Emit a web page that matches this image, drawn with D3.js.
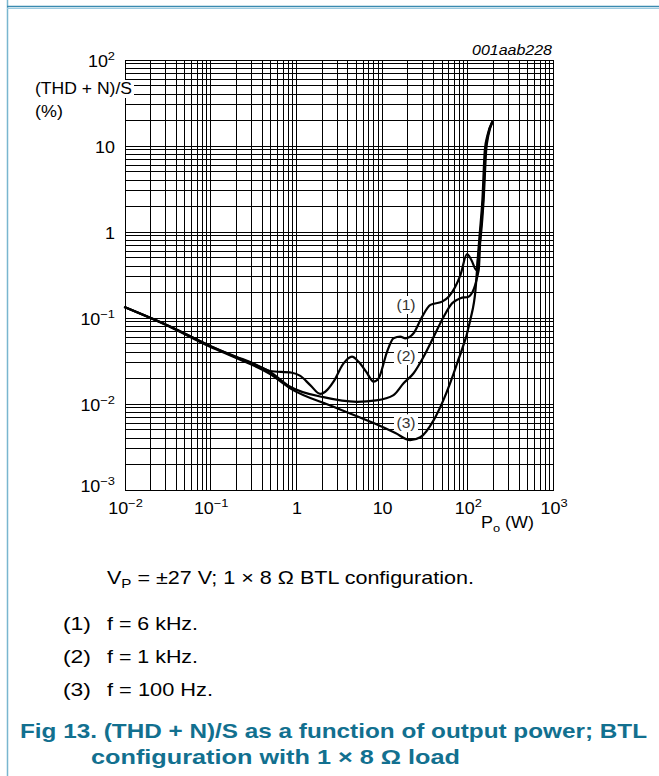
<!DOCTYPE html>
<html><head><meta charset="utf-8">
<script src="https://cdn.jsdelivr.net/npm/d3@7"></script>
<style>
body{margin:0;background:#fff}
svg{display:block}
text{font-family:"Liberation Sans",Arial,Helvetica,sans-serif}
</style>
</head><body>
<svg id="c" width="659" height="776"></svg>
<script>
// ---- data ----
const xTickValues = [0.01, 0.1, 1, 10, 100, 1000];
const xTickLabels = [["10","\u22122"],["10","\u22121"],["1",""],["10",""],["10","2"],["10","3"]];
const yTickValues = [100, 10, 1, 0.1, 0.01, 0.001];
const yTickLabels = [["10","2"],["10",""],["1",""],["10","\u22121"],["10","\u22122"],["10","\u22123"]];

// (1) f = 6 kHz
const curve1Power = [0.01,0.0336,0.0984,0.202,0.289,0.494,0.886,1.11,1.45,1.90,2.29,2.71,3.55,4.45,5.32,6.54,7.96,9.10,11.4,13.6,16.3,18.7,23.3,29.3,36.6,50.1,59.8,82.0,98.1,110,126,135,143,153,164,174,194];
const curve1Thd   = [0.133,0.0796,0.0473,0.0352,0.0308,0.0242,0.0231,0.0212,0.0166,0.0131,0.0146,0.0182,0.0297,0.0355,0.031,0.0236,0.0182,0.0199,0.0402,0.0581,0.0606,0.058,0.0664,0.1035,0.142,0.155,0.177,0.316,0.555,0.473,0.361,0.617,0.974,2.36,8.98,13.4,19.0];
// (2) f = 1 kHz
const curve2Power = [0.01,0.0336,0.0984,0.202,0.494,0.846,2.07,5.09,8.55,13.6,17.8,23.3,30.5,40.0,52.3,65.6,82.0,102,134,141,151,161,172,193];
const curve2Thd   = [0.133,0.0796,0.0473,0.0347,0.0236,0.0159,0.0120,0.0106,0.0110,0.0127,0.0174,0.0228,0.0355,0.0606,0.1035,0.148,0.170,0.177,0.361,0.974,2.36,8.98,13.4,19.0];
// (3) f = 100 Hz
const curve3Power = [0.01,0.0336,0.0984,0.202,0.494,0.846,2.71,7.96,14.3,21.3,27.9,40.0,51.9,75.0,107,123,133,138,148,158,170,192];
const curve3Thd   = [0.133,0.0786,0.0464,0.034,0.0223,0.0152,0.0093,0.0060,0.0046,0.0038,0.0041,0.0065,0.0111,0.0297,0.0948,0.212,0.617,0.974,2.36,8.98,13.4,19.0];

const curveNames = ["(1)","(2)","(3)"];
const curveLabelPower = [19.0, 19.0, 19.0];
const curveLabelThd = [0.1416, 0.0361, 0.00597];

// ---- drawing ----
const svg = d3.select("#c");
const x = d3.scaleLog().domain([0.01, 1000]).range([125, 553.5]);
const y = d3.scaleLog().domain([0.001, 100]).range([490, 60]);
const SX = 1.12; // horizontal stretch of the reference lettering

// page frame
svg.append("line").attr("x1",7.5).attr("x2",7.5).attr("y1",0).attr("y2",776).attr("stroke","#79b6cf").attr("stroke-width",1.5);
svg.append("line").attr("x1",7).attr("x2",659).attr("y1",6.5).attr("y2",6.5).attr("stroke","#3a8ab0").attr("stroke-width",1.6);
svg.append("line").attr("x1",7).attr("x2",659).attr("y1",8.5).attr("y2",8.5).attr("stroke","#9ccbe0").attr("stroke-width",1);

// grid
const grid = svg.append("g").attr("stroke","#000").attr("stroke-width",1).attr("shape-rendering","crispEdges");
grid.selectAll("line.v").data(x.ticks()).join("line").attr("class","v")
  .attr("x1",d=>x(d)).attr("x2",d=>x(d)).attr("y1",y.range()[1]).attr("y2",y.range()[0]);
grid.selectAll("line.h").data(y.ticks()).join("line").attr("class","h")
  .attr("y1",d=>y(d)).attr("y2",d=>y(d)).attr("x1",x.range()[0]).attr("x2",x.range()[1]);

// axes (labels only)
const gx = svg.append("g").attr("transform",`translate(0,${y.range()[0]})`)
  .call(d3.axisBottom(x).tickValues(xTickValues).tickSize(0).tickPadding(0).tickFormat(()=>""));
gx.select(".domain").remove();
gx.selectAll(".tick text").each(function(d,i){
  const t = d3.select(this);
  t.text(null).attr("x",0).attr("y",0).attr("dy",null).attr("font-size",16).attr("fill","#000")
   .attr("transform",`translate(0,24) scale(${SX},1)`)
   .attr("font-family",'"Liberation Sans",Arial,sans-serif').attr("text-anchor","middle");
  t.append("tspan").text(xTickLabels[i][0]);
  if (xTickLabels[i][1]) t.append("tspan").attr("font-size",11.5).attr("dy",-7).text(xTickLabels[i][1]);
});

const gy = svg.append("g").attr("transform",`translate(${x.range()[0]},0)`)
  .call(d3.axisLeft(y).tickValues(yTickValues).tickSize(0).tickPadding(0).tickFormat(()=>""));
gy.select(".domain").remove();
gy.selectAll(".tick text").each(function(d,i){
  const t = d3.select(this);
  t.text(null).attr("x",0).attr("y",0).attr("dy",null).attr("font-size",16).attr("fill","#000")
   .attr("transform",`translate(-10,${i===5 ? 1 : 6}) scale(${SX},1)`)
   .attr("font-family",'"Liberation Sans",Arial,sans-serif').attr("text-anchor","end");
  t.append("tspan").text(yTickLabels[i][0]);
  if (yTickLabels[i][1]) t.append("tspan").attr("font-size",11.5).attr("dy",-7).text(yTickLabels[i][1]);
});

// y title with white background
svg.append("rect").attr("x",30).attr("y",80).attr("width",104).attr("height",18).attr("fill","#fff");
svg.append("text").attr("x",35).attr("y",94).attr("font-size",16)
  .attr("textLength",97).attr("lengthAdjust","spacingAndGlyphs").text("(THD + N)/S");
svg.append("text").attr("transform",`translate(49,117) scale(${SX},1)`).attr("text-anchor","middle").attr("font-size",16).text("(%)");

// x title
const xt = svg.append("text").attr("transform",`translate(481,528) scale(${SX},1)`).attr("font-size",16);
xt.append("tspan").text("P");
xt.append("tspan").attr("font-size",11.5).attr("dy",4).text("o");
xt.append("tspan").attr("dy",-4).text(" (W)");

// code
svg.append("text").attr("x",472).attr("y",55).attr("font-size",14.5).attr("font-style","italic")
  .attr("textLength",80).attr("lengthAdjust","spacingAndGlyphs").text("001aab228");

// curves
const line = d3.line().x(d=>x(d[0])).y(d=>y(d[1])).curve(d3.curveMonotoneX);
const series = [
  d3.zip(curve1Power, curve1Thd),
  d3.zip(curve2Power, curve2Thd),
  d3.zip(curve3Power, curve3Thd)
];

// curve labels (white boxes break the grid)
const lab = svg.append("g").selectAll("g").data(curveNames).join("g")
  .attr("transform",(d,i)=>`translate(${x(curveLabelPower[i])},${y(curveLabelThd[i])})`);
lab.append("rect").attr("x",-12).attr("y",-9).attr("width",24).attr("height",18).attr("fill","#fff");
lab.append("text").attr("text-anchor","middle").attr("y",5).attr("font-size",14).attr("fill","#333")
  .attr("transform",`scale(${SX},1)`).text(d=>d);

svg.append("g").selectAll("path").data(series).join("path")
  .attr("d", line).attr("fill","none").attr("stroke","#000").attr("stroke-width",2.2)
  .attr("stroke-linejoin","round").attr("stroke-linecap","round");

// captions
const cap = svg.append("g").attr("font-size",18.5).attr("fill","#000");
const c0 = cap.append("text").attr("x",107).attr("y",584).attr("textLength",367).attr("lengthAdjust","spacingAndGlyphs");
c0.append("tspan").text("V");
c0.append("tspan").attr("font-size",13).attr("dy",4).text("P");
c0.append("tspan").attr("dy",-4).text(" = \u00b127 V; 1 \u00d7 8 \u03a9 BTL configuration.");
const notes = [["(1)","f = 6 kHz."],["(2)","f = 1 kHz."],["(3)","f = 100 Hz."]];
const noteWidths = [91, 91, 106];
notes.forEach((n,i)=>{
  cap.append("text").attr("x",63).attr("y",630+i*33).attr("textLength",28).attr("lengthAdjust","spacingAndGlyphs").text(n[0]);
  cap.append("text").attr("x",107).attr("y",630+i*33).attr("textLength",noteWidths[i]).attr("lengthAdjust","spacingAndGlyphs").text(n[1]);
});
const fig = svg.append("g").attr("font-size",21).attr("font-weight","bold").attr("fill","#12708f");
fig.append("text").attr("x",20).attr("y",738).attr("textLength",627).attr("lengthAdjust","spacingAndGlyphs")
  .text("Fig 13. (THD + N)/S as a function of output power; BTL");
fig.append("text").attr("x",91).attr("y",764).attr("textLength",369).attr("lengthAdjust","spacingAndGlyphs")
  .text("configuration with 1 \u00d7 8 \u03a9 load");
</script>
</body></html>
